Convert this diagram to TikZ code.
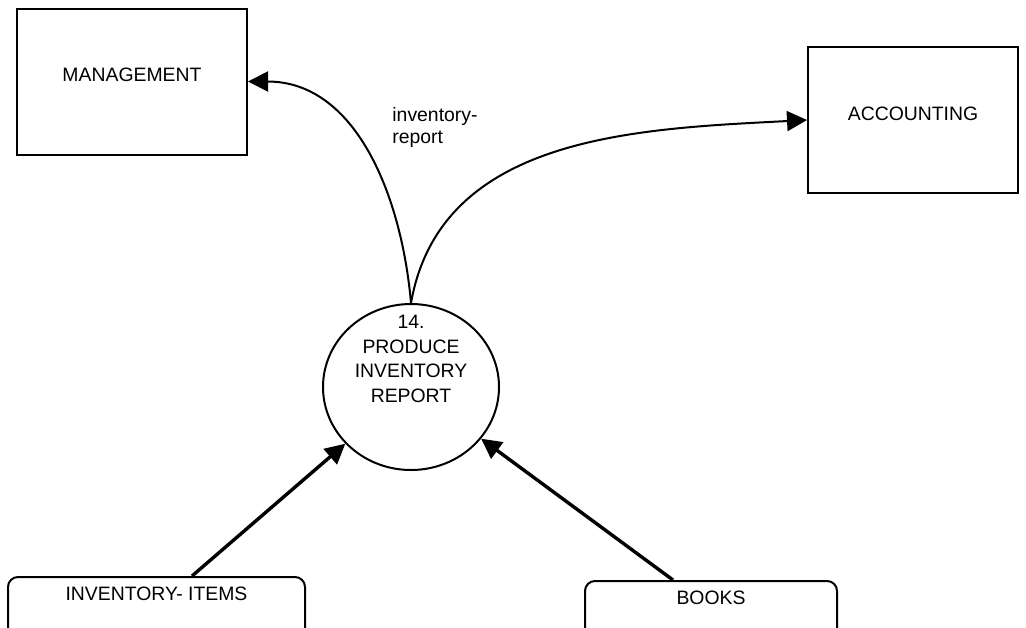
\documentclass[tikz,border=0pt]{standalone}
\usepackage{fontspec}
\setmainfont{Liberation Sans}
\usetikzlibrary{arrows.meta, shapes.geometric, positioning}

\begin{document}
\begin{tikzpicture}[
			x=0.5pt, y=-0.5pt,
			every node/.style={
					font=\fontsize{9.7}{12.35}\selectfont
				},
			extbox/.style={
					draw,
					line width=1pt,
					minimum width=#1,
					minimum height=73pt,
					text height=7pt,   % Cap height of the label
					text depth=6.75pt  % Pushes the label above the middle
				},
			store/.style={
					draw,
					line width=1pt,
					rounded corners=5pt,
					minimum width=#1,
					minimum height=40pt,
					text height=7pt,
					text depth=24pt    % Label sits near the top edge
				},
			flow/.style={
					-{Triangle[length=10pt, width=10pt]},
					line width=1pt
				},
			inflow/.style={
					-{Triangle[length=10pt, width=10pt]},
					line width=1.7pt
				}
		]
		\useasboundingbox (0,0) rectangle (1026,627);

		\node[extbox=115pt] (mgmt) at (132, 81.5) {MANAGEMENT};
		\node[extbox=105pt] (acct) at (913, 120) {ACCOUNTING};

		\node[
			draw,
			ellipse,
			line width=1pt,
			inner sep=0pt,
			minimum width=88pt,   % Process bubble
			minimum height=83pt
		] (proc) at (411, 387) {};
		\node[align=center, inner sep=0pt] (proctext) at ([yshift=14pt]proc.center)
		{14.\\PRODUCE\\INVENTORY\\REPORT};

		\node[store=148.5pt] (items) at (156.5, 617) {INVENTORY- ITEMS};
		\node[store=126pt] (books) at (711, 621) {BOOKS};

		\draw[flow] (proc.north) to[out=95, in=0] (mgmt.east);
		\node[
			align=left,
			anchor=west,
			inner sep=0pt,
			font=\fontsize{9.7}{11}\selectfont
		] (lbl) at (392, 127) {inventory-\\report};
		\draw[flow] (proc.north) to[out=80, in=183] (acct.west);

		\draw[inflow] ([xshift=17.75pt]items.north) -- (proc);
		\draw[inflow] ([xshift=-19pt]books.north) -- (proc);
	\end{tikzpicture}
\end{document}
